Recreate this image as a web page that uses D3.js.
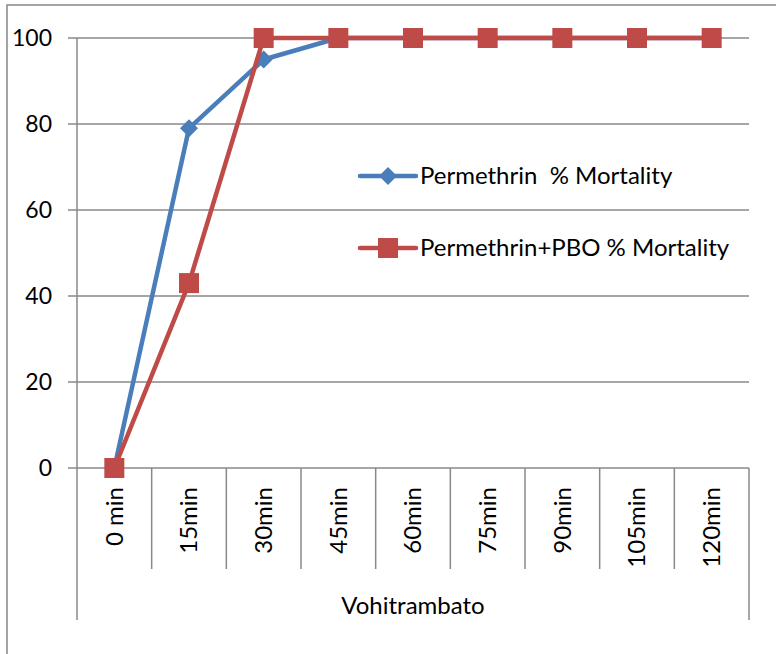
<!DOCTYPE html>
<html>
<head>
<meta charset="utf-8">
<script src="https://cdn.jsdelivr.net/npm/d3@7"></script>
<style>
  body { margin: 0; background: #fff; }
  text { font-family: Lato, "Liberation Sans", sans-serif; fill: #000; }
</style>
</head>
<body>
<div id="chart"></div>
<script>
// data
var categories = ["0 min", "15min", "30min", "45min", "60min", "75min", "90min", "105min", "120min"];
var permethrin = [0, 79, 95, 100, 100, 100, 100, 100, 100];
var permethrinPbo = [0, 43, 100, 100, 100, 100, 100, 100, 100];
var seriesNames = ["Permethrin  % Mortality", "Permethrin+PBO % Mortality"];
var yTicks = [0, 20, 40, 60, 80, 100];
var groupLabel = "Vohitrambato";

var W = 776, H = 654;
var margin = { top: 38, right: 27, bottom: 186, left: 77 },
    width = W - margin.left - margin.right,
    height = H - margin.top - margin.bottom;

var svg = d3.select("#chart").append("svg")
    .attr("width", W)
    .attr("height", H);

// outer chart border
svg.append("rect")
    .attr("x", 7).attr("y", 5)
    .attr("width", W).attr("height", H)
    .attr("fill", "none")
    .attr("stroke", "#868686")
    .attr("stroke-width", 1.5);

var g = svg.append("g")
    .attr("transform", "translate(" + margin.left + "," + margin.top + ")");

var x = d3.scaleBand().domain(categories).range([0, width]);
var y = d3.scaleLinear().domain([0, 100]).range([height, 0]);

//gridlines + y tick marks
g.selectAll(".grid")
    .data(yTicks)
    .enter().append("line")
    .attr("x1", -9).attr("x2", width)
    .attr("y1", d => y(d)).attr("y2", d => y(d))
    .attr("stroke", "#888")
    .attr("stroke-width", 1.5);

g.selectAll(".ylab")
    .data(yTicks)
    .enter().append("text")
    .attr("x", -25)
    .attr("y", d => y(d))
    .attr("dy", "0.35em")
    .attr("text-anchor", "end")
    .style("font-size", "23px")
    .text(d => d);

// y axis line
g.append("line")
    .attr("x1", 0).attr("x2", 0)
    .attr("y1", 0).attr("y2", height + 152)
    .attr("stroke", "#888").attr("stroke-width", 1.5);
// right end of the category axis
g.append("line")
    .attr("x1", width).attr("x2", width)
    .attr("y1", height).attr("y2", height + 152)
    .attr("stroke", "#888").attr("stroke-width", 1.5);

// category dividers
g.selectAll(".div")
    .data(categories.slice(1))
    .enter().append("line")
    .attr("x1", d => x(d)).attr("x2", d => x(d))
    .attr("y1", height).attr("y2", height + 101)
    .attr("stroke", "#888").attr("stroke-width", 1.5);

// rotated category labels
g.selectAll(".xlab")
    .data(categories)
    .enter().append("text")
    .attr("transform", d => "translate(" + (x(d) + x.bandwidth() / 2) + "," + (height + 19) + ") rotate(-90)")
    .attr("dy", "0.35em")
    .attr("text-anchor", "end")
    .style("font-size", "24px")
    .text(d => d);

g.append("text")
    .attr("x", width / 2)
    .attr("y", height + 138)
    .attr("dy", "0.35em")
    .attr("text-anchor", "middle")
    .style("font-size", "24px")
    .text(groupLabel);

var line = d3.line()
    .x((d, i) => x(categories[i]) + x.bandwidth() / 2)
    .y(d => y(d));

var blue = "#4a7ebb", red = "#be4b48";

g.append("path").datum(permethrin)
    .attr("d", line).attr("fill", "none")
    .attr("stroke", blue).attr("stroke-width", 4.5).attr("stroke-linejoin", "round");

g.selectAll(".dia")
    .data(permethrin)
    .enter().append("path")
    .attr("transform", (d, i) => "translate(" + (x(categories[i]) + x.bandwidth() / 2) + "," + y(d) + ")")
    .attr("d", "M0,-9L9,0L0,9L-9,0Z")
    .attr("fill", blue);

g.append("path").datum(permethrinPbo)
    .attr("d", line).attr("fill", "none")
    .attr("stroke", red).attr("stroke-width", 4.5).attr("stroke-linejoin", "round");

g.selectAll(".sq")
    .data(permethrinPbo)
    .enter().append("rect")
    .attr("x", (d, i) => x(categories[i]) + x.bandwidth() / 2 - 10)
    .attr("y", d => y(d) - 10)
    .attr("width", 20).attr("height", 20)
    .attr("fill", red);

// legend
var legend = svg.append("g").attr("transform", "translate(360,0)");
var legY = [176, 248];
[blue, red].forEach(function(c, i) {
    legend.append("line")
        .attr("x1", 0).attr("x2", 56)
        .attr("y1", legY[i]).attr("y2", legY[i])
        .attr("stroke", c).attr("stroke-width", 4.5).attr("stroke-linecap", "round");
    if (i === 0) {
        legend.append("path")
            .attr("transform", "translate(28," + legY[i] + ")")
            .attr("d", "M0,-9L9,0L0,9L-9,0Z")
            .attr("fill", c);
    } else {
        legend.append("rect")
            .attr("x", 18).attr("y", legY[i] - 10)
            .attr("width", 20).attr("height", 20)
            .attr("fill", c);
    }
    legend.append("text")
        .attr("x", 60)
        .attr("y", legY[i])
        .attr("dy", "0.35em")
        .style("font-size", "24px")
        .style("white-space", "pre")
        .text(seriesNames[i]);
});
</script>
</body>
</html>
